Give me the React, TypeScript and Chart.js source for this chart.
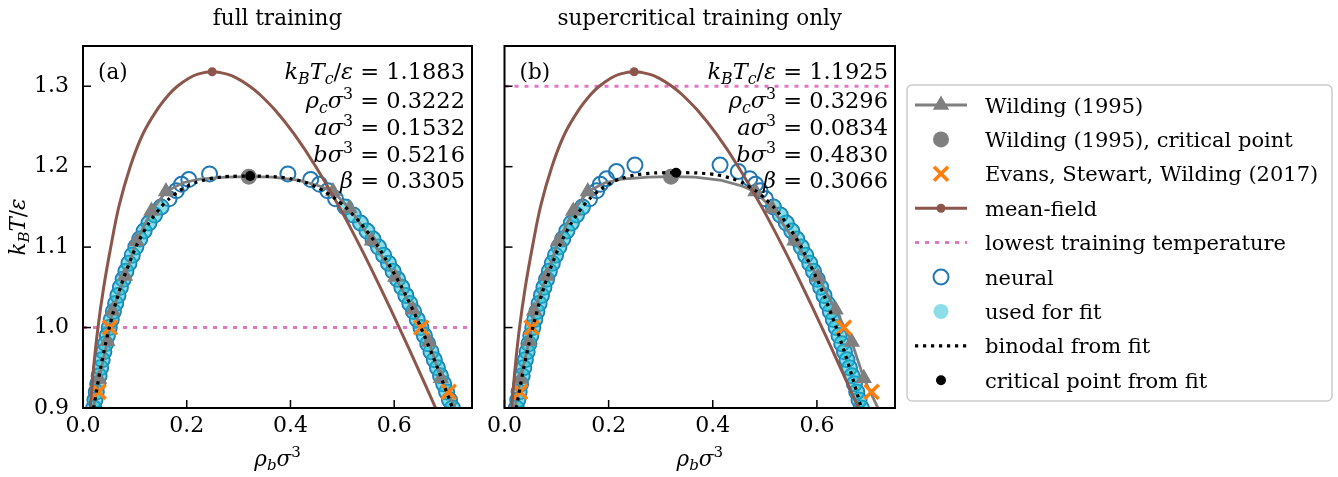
import React, { useEffect, useRef } from "react";
import { Chart, registerables } from "chart.js";
Chart.register(...registerables);

const SERIF = '"DejaVu Serif", serif';

// ---------------- axes ----------------
const X_MIN = 0;
const X_MAX = 0.75;
const X_STEP = 0.2;
const Y_MIN = 0.9;
const Y_MAX = 1.35;
const Y_STEP = 0.1;

// ---------------- Wilding (1995) reference binodal ----------------
const wildingRho = [0.014, 0.031, 0.047, 0.057, 0.081, 0.103, 0.132, 0.160, 0.193, 0.225, 0.276, 0.3197, 0.366, 0.417, 0.456, 0.482, 0.514, 0.557, 0.602, 0.636, 0.667, 0.690, 0.732];
const wildingT = [0.88, 0.936, 0.983, 1.021, 1.064, 1.107, 1.145, 1.169, 1.180, 1.1845, 1.187, 1.1876, 1.187, 1.183, 1.176, 1.169, 1.148, 1.108, 1.063, 1.022, 0.982, 0.937, 0.88];
const wildingHasMarker = [1, 1, 1, 1, 1, 1, 1, 1, 0, 0, 0, 0, 0, 0, 0, 1, 1, 1, 1, 1, 1, 1, 1];
const wildingCritRho = [0.3197];
const wildingCritT = [1.1876];

// ---------------- Evans, Stewart, Wilding (2017) ----------------
const eswRho = [0.030, 0.052, 0.652, 0.705];
const eswT = [0.92, 1.0, 1.0, 0.92];

// ---------------- mean-field binodal ----------------
const mfT = [0.88, 0.90, 0.95, 1.00, 1.05, 1.10, 1.15, 1.20, 1.24, 1.27, 1.29, 1.30, 1.31, 1.315];
const mfGas = [0.0119, 0.0139, 0.0204, 0.0289, 0.0399, 0.0535, 0.0690, 0.0910, 0.1150, 0.1420, 0.1660, 0.1820, 0.2040, 0.2213];
const mfLiq = [0.6935, 0.6799, 0.6452, 0.6097, 0.5731, 0.5349, 0.4940, 0.4489, 0.4076, 0.3707, 0.3403, 0.3214, 0.2965, 0.2777];
const mfCritRho = 0.249;
const mfCritT = 1.318;

// ---------------- panel (a): full training ----------------
const neuralTA = [0.90, 0.91, 0.92, 0.93, 0.94, 0.95, 0.96, 0.97, 0.98, 0.99, 1.00, 1.01, 1.02, 1.03, 1.04, 1.05, 1.06, 1.07, 1.08, 1.09, 1.10, 1.11, 1.12, 1.13, 1.14, 1.15, 1.16, 1.17, 1.178, 1.184, 1.191];
const neuralGasA = [0.0206, 0.0230, 0.0256, 0.0283, 0.0311, 0.0340, 0.0370, 0.0402, 0.0435, 0.0470, 0.0507, 0.0545, 0.0586, 0.0629, 0.0673, 0.0721, 0.0773, 0.0827, 0.0886, 0.0950, 0.1018, 0.1094, 0.1179, 0.1272, 0.1380, 0.1506, 0.1660, 0.1800, 0.1900, 0.2040, 0.2440];
const neuralLiqA = [0.7122, 0.7066, 0.7010, 0.6953, 0.6893, 0.6834, 0.6774, 0.6710, 0.6647, 0.6582, 0.6515, 0.6445, 0.6374, 0.6301, 0.6225, 0.6147, 0.6065, 0.5979, 0.5890, 0.5796, 0.5696, 0.5590, 0.5475, 0.5350, 0.5212, 0.5056, 0.4870, 0.4720, 0.4560, 0.4390, 0.3950];
const fitTA = [0.88, 0.90, 0.95, 1.00, 1.05, 1.10, 1.13, 1.15, 1.16, 1.17, 1.175, 1.18, 1.185, 1.1875, 1.188];
const fitGasA = [0.0159, 0.0206, 0.0340, 0.0507, 0.0721, 0.1018, 0.1272, 0.1506, 0.1660, 0.1860, 0.1991, 0.2165, 0.2438, 0.2729, 0.2865];
const fitLiqA = [0.7229, 0.7122, 0.6834, 0.6515, 0.6147, 0.5696, 0.5350, 0.5056, 0.4870, 0.4640, 0.4493, 0.4305, 0.4016, 0.3717, 0.3579];
const paramsA = [1.1883, 0.3222, 0.1532, 0.5216, 0.3305];
const lowestTA = 1.0;
const usedMaxTA = 1.15;

// ---------------- panel (b): supercritical training only ----------------
const neuralTB = [0.90, 0.91, 0.92, 0.93, 0.94, 0.95, 0.96, 0.97, 0.98, 0.99, 1.00, 1.01, 1.02, 1.03, 1.04, 1.05, 1.06, 1.07, 1.08, 1.09, 1.10, 1.11, 1.12, 1.13, 1.14, 1.15, 1.16, 1.17, 1.178, 1.185, 1.194, 1.202];
const neuralGasB = [0.0227, 0.0254, 0.0281, 0.0310, 0.0340, 0.0370, 0.0402, 0.0435, 0.0469, 0.0505, 0.0543, 0.0581, 0.0622, 0.0665, 0.0710, 0.0757, 0.0808, 0.0861, 0.0918, 0.0980, 0.1045, 0.1118, 0.1197, 0.1284, 0.1383, 0.1497, 0.1634, 0.1770, 0.1840, 0.1960, 0.2150, 0.2505];
const neuralLiqB = [0.6853, 0.6810, 0.6765, 0.6720, 0.6674, 0.6626, 0.6578, 0.6529, 0.6477, 0.6425, 0.6371, 0.6315, 0.6258, 0.6199, 0.6136, 0.6073, 0.6006, 0.5935, 0.5862, 0.5784, 0.5701, 0.5612, 0.5517, 0.5412, 0.5297, 0.5165, 0.5012, 0.4910, 0.4820, 0.4710, 0.4490, 0.4140];
const fitTB = [0.88, 0.90, 0.95, 1.00, 1.05, 1.10, 1.13, 1.15, 1.16, 1.17, 1.18, 1.185, 1.19, 1.1922];
const fitGasB = [0.0176, 0.0227, 0.0370, 0.0543, 0.0757, 0.1045, 0.1284, 0.1497, 0.1634, 0.1806, 0.2046, 0.2224, 0.2529, 0.2894];
const fitLiqB = [0.6938, 0.6853, 0.6626, 0.6371, 0.6073, 0.5701, 0.5412, 0.5165, 0.5012, 0.4824, 0.4566, 0.4380, 0.4067, 0.3698];
const paramsB = [1.1925, 0.3296, 0.0834, 0.4830, 0.3066];
const lowestTB = 1.3;
const usedMaxTB = 1.15;

const legendLabels = [
  "Wilding (1995)",
  "Wilding (1995), critical point",
  "Evans, Stewart, Wilding (2017)",
  "mean-field",
  "lowest training temperature",
  "neural",
  "used for fit",
  "binodal from fit",
  "critical point from fit",
];

// ---------------- colours ----------------
const C_BLUE = "#1f77b4";
const C_ORANGE = "#ff7f0e";
const C_BROWN = "#8c564b";
const C_PINK = "#e377c2";
const C_GRAY = "#7f7f7f";
const C_CYAN = "rgba(23,190,207,0.5)";

type Seg = { t: string; i?: boolean; sub?: boolean; sup?: boolean };

function drawRich(ctx: CanvasRenderingContext2D, segs: Seg[], x: number, y: number, size: number, align: "left" | "right" | "center") {
  const fontFor = (s: Seg) => `${s.i ? "italic " : ""}${s.sub || s.sup ? size * 0.7 : size}px ${SERIF}`;
  const widths = segs.map((s) => {
    ctx.font = fontFor(s);
    return ctx.measureText(s.t).width;
  });
  const total = widths.reduce((a, b) => a + b, 0);
  let cx = align === "right" ? x - total : align === "center" ? x - total / 2 : x;
  ctx.textAlign = "left";
  ctx.textBaseline = "alphabetic";
  segs.forEach((s, k) => {
    ctx.font = fontFor(s);
    const dy = s.sub ? size * 0.2 : s.sup ? -size * 0.4 : 0;
    ctx.fillText(s.t, cx, y + dy);
    cx += widths[k];
  });
}

interface Panel {
  title: string;
  tag: string;
  showY: boolean;
  yAxisWidth: number;
  padRight: number;
  neuralT: number[];
  neuralGas: number[];
  neuralLiq: number[];
  usedMaxT: number;
  fitT: number[];
  fitGas: number[];
  fitLiq: number[];
  params: number[];
  lowestT: number;
}

const panelA: Panel = {
  title: "full training", tag: "(a)", showY: true, yAxisWidth: 83, padRight: 8,
  neuralT: neuralTA, neuralGas: neuralGasA, neuralLiq: neuralLiqA, usedMaxT: usedMaxTA,
  fitT: fitTA, fitGas: fitGasA, fitLiq: fitLiqA, params: paramsA, lowestT: lowestTA,
};
const panelB: Panel = {
  title: "supercritical training only", tag: "(b)", showY: false, yAxisWidth: 44.5, padRight: 5,
  neuralT: neuralTB, neuralGas: neuralGasB, neuralLiq: neuralLiqB, usedMaxT: usedMaxTB,
  fitT: fitTB, fitGas: fitGasB, fitLiq: fitLiqB, params: paramsB, lowestT: lowestTB,
};

function paramRows(p: number[]): Seg[][] {
  const v = (k: number) => " = " + p[k].toFixed(4);
  return [
    [{ t: "k", i: true }, { t: "B", i: true, sub: true }, { t: "T", i: true }, { t: "c", i: true, sub: true }, { t: "/" }, { t: "ε", i: true }, { t: v(0) }],
    [{ t: "ρ", i: true }, { t: "c", i: true, sub: true }, { t: "σ", i: true }, { t: "3", sup: true }, { t: v(1) }],
    [{ t: "a", i: true }, { t: "σ", i: true }, { t: "3", sup: true }, { t: v(2) }],
    [{ t: "b", i: true }, { t: "σ", i: true }, { t: "3", sup: true }, { t: v(3) }],
    [{ t: "β", i: true }, { t: v(4) }],
  ];
}

function makeDatasets(p: Panel) {
  const neural = p.neuralT.flatMap((t, i) => [{ x: p.neuralGas[i], y: t }, { x: p.neuralLiq[i], y: t }]);
  const used = p.neuralT.flatMap((t, i) => (t <= p.usedMaxT + 1e-9 ? [{ x: p.neuralGas[i], y: t }, { x: p.neuralLiq[i], y: t }] : []));
  const crit = { x: p.params[1], y: p.params[0] };
  const fitLine = [
    ...p.fitT.map((t, i) => ({ x: p.fitGas[i], y: t })),
    crit,
    ...p.fitT.map((t, i) => ({ x: p.fitLiq[i], y: t })).reverse(),
  ];
  const mf = [
    ...mfT.map((t, i) => ({ x: mfGas[i], y: t })),
    { x: mfCritRho, y: mfCritT },
    ...mfT.map((t, i) => ({ x: mfLiq[i], y: t })).reverse(),
  ];
  const wild = wildingRho.map((r, i) => ({ x: r, y: wildingT[i] }));
  return [
    { label: "lowest", data: [{ x: X_MIN, y: p.lowestT }, { x: X_MAX, y: p.lowestT }], showLine: true, borderColor: C_PINK, borderWidth: 3, borderDash: [4, 6], borderCapStyle: "butt", pointRadius: 0, order: 10, clip: 0 },
    { label: "neural", data: neural, showLine: false, pointStyle: "circle", pointRadius: 7.5, pointBorderWidth: 2, pointBorderColor: C_BLUE, pointBackgroundColor: "rgba(0,0,0,0)", order: 9, clip: 0 },
    { label: "used", data: used, showLine: false, pointStyle: "circle", pointRadius: 7.5, pointBorderWidth: 0, pointBorderColor: "rgba(0,0,0,0)", pointBackgroundColor: C_CYAN, order: 8, clip: 0 },
    { label: "wilding", data: wild, showLine: true, borderColor: C_GRAY, borderWidth: 2.8, tension: 0, pointStyle: "triangle", pointRadius: wildingHasMarker.map((m) => (m ? 9.5 : 0)), pointBorderWidth: 0, pointBackgroundColor: C_GRAY, pointBorderColor: C_GRAY, order: 7, clip: 0 },
    { label: "wildingCrit", data: wildingCritRho.map((r, i) => ({ x: r, y: wildingCritT[i] })), showLine: false, pointStyle: "circle", pointRadius: 8, pointBorderWidth: 0, pointBackgroundColor: C_GRAY, order: 6, clip: 0 },
    { label: "esw", data: eswRho.map((r, i) => ({ x: r, y: eswT[i] })), showLine: false, pointStyle: "crossRot", pointRadius: 10, pointBorderWidth: 3.5, pointBorderColor: C_ORANGE, order: 5, clip: 0 },
    { label: "mf", data: mf, showLine: true, borderColor: C_BROWN, borderWidth: 3, tension: 0.3, pointRadius: 0, order: 4, clip: 0 },
    { label: "mfCrit", data: [{ x: mfCritRho, y: mfCritT }], showLine: false, pointStyle: "circle", pointRadius: 4.5, pointBorderWidth: 0, pointBackgroundColor: C_BROWN, order: 3, clip: 0 },
    { label: "fit", data: fitLine, showLine: true, borderColor: "#000", borderWidth: 3.2, borderDash: [3.2, 4.8], borderCapStyle: "butt", tension: 0.25, pointRadius: 0, order: 2, clip: 0 },
    { label: "fitCrit", data: [crit], showLine: false, pointStyle: "circle", pointRadius: 5, pointBorderWidth: 0, pointBackgroundColor: "#000", order: 1, clip: 0 },
  ];
}

function decorPlugin(p: Panel) {
  return {
    id: "decor" + p.tag,
    afterDatasetsDraw(chart: any) {
      const { ctx, chartArea: a, scales } = chart;
      ctx.save();
      ctx.strokeStyle = "#000";
      ctx.lineWidth = 1.5;
      for (const t of scales.x.ticks) {
        const px = scales.x.getPixelForValue(t.value);
        ctx.beginPath();
        ctx.moveTo(px, a.bottom);
        ctx.lineTo(px, a.bottom - 8);
        ctx.stroke();
      }
      for (const t of scales.y.ticks) {
        const py = scales.y.getPixelForValue(t.value);
        ctx.beginPath();
        ctx.moveTo(a.left, py);
        ctx.lineTo(a.left + 8, py);
        ctx.stroke();
      }
      ctx.lineWidth = 2;
      ctx.strokeRect(a.left, a.top, a.right - a.left, a.bottom - a.top);

      ctx.fillStyle = "#000";
      const cx = (a.left + a.right) / 2;
      // title
      drawRich(ctx, [{ t: p.title }], cx, 25, 21.5, "center");
      // x label
      drawRich(ctx, [{ t: "ρ", i: true }, { t: "b", i: true, sub: true }, { t: "σ", i: true }, { t: "3", sup: true }], cx, 466, 21.5, "center");
      // y label
      if (p.showY) {
        ctx.save();
        ctx.translate(25, (a.top + a.bottom) / 2);
        ctx.rotate(-Math.PI / 2);
        drawRich(ctx, [{ t: "k", i: true }, { t: "B", i: true, sub: true }, { t: "T", i: true }, { t: "/" }, { t: "ε", i: true }], 0, 0, 21.5, "center");
        ctx.restore();
      }
      // panel tag
      drawRich(ctx, [{ t: p.tag }], a.left + 15, 79, 21.5, "left");
      // parameters
      const rows = paramRows(p.params);
      const baselines = [79, 108, 135, 162, 188];
      rows.forEach((r, k) => drawRich(ctx, r, a.right - 7, baselines[k], 22.5, "right"));
      ctx.restore();
    },
  };
}

function makeConfig(p: Panel): any {
  const tickFont = { family: SERIF, size: 22 };
  return {
    type: "scatter",
    data: { datasets: makeDatasets(p) },
    options: {
      responsive: false,
      animation: false,
      devicePixelRatio: 1,
      events: [],
      layout: { autoPadding: false, padding: { left: 0, top: 46, right: p.padRight, bottom: 0 } },
      plugins: { legend: { display: false }, tooltip: { enabled: false }, title: { display: false } },
      scales: {
        x: {
          type: "linear",
          position: "bottom",
          min: X_MIN,
          max: X_MAX,
          grid: { display: false, drawTicks: false },
          border: { display: false },
          ticks: { stepSize: X_STEP, includeBounds: false, autoSkip: false, maxRotation: 0, color: "#000", font: tickFont, padding: 5, callback: (v: any) => Number(v).toFixed(1) },
          afterFit: (s: any) => { s.height = 69; },
        },
        y: {
          type: "linear",
          position: "left",
          min: Y_MIN,
          max: Y_MAX,
          grid: { display: false, drawTicks: false },
          border: { display: false },
          ticks: { display: p.showY, stepSize: Y_STEP, includeBounds: false, autoSkip: false, color: "#000", font: tickFont, padding: 14, callback: (v: any) => Number(v).toFixed(1) },
          afterFit: (s: any) => { s.width = p.yAxisWidth; },
        },
      },
    },
    plugins: [decorPlugin(p)],
  };
}

function Legend() {
  const x0 = 907, y0 = 85, w = 425, h = 316;
  const hx = 941, lx1 = 915, lx2 = 967, tx = 985;
  const rowY = (k: number) => 105 + 34.4 * k;
  const tri = (cy: number, r: number) =>
    `M ${hx} ${cy - r} L ${hx + r * 0.866} ${cy + r / 2} L ${hx - r * 0.866} ${cy + r / 2} Z`;
  return (
    <svg width={1338} height={477} style={{ position: "absolute", left: 0, top: 0, pointerEvents: "none" }}>
      <rect x={x0} y={y0} width={w} height={h} rx={5} ry={5} fill="rgba(255,255,255,0.8)" stroke="#cccccc" strokeWidth={1.5} />
      {/* Wilding line */}
      <line x1={lx1} x2={lx2} y1={rowY(0)} y2={rowY(0)} stroke={C_GRAY} strokeWidth={2.8} />
      <path d={tri(rowY(0), 9.5)} fill={C_GRAY} />
      {/* Wilding crit */}
      <circle cx={hx} cy={rowY(1)} r={8} fill={C_GRAY} />
      {/* ESW */}
      <line x1={hx - 7} y1={rowY(2) - 7} x2={hx + 7} y2={rowY(2) + 7} stroke={C_ORANGE} strokeWidth={3.5} />
      <line x1={hx - 7} y1={rowY(2) + 7} x2={hx + 7} y2={rowY(2) - 7} stroke={C_ORANGE} strokeWidth={3.5} />
      {/* mean-field */}
      <line x1={lx1} x2={lx2} y1={rowY(3)} y2={rowY(3)} stroke={C_BROWN} strokeWidth={3} />
      <circle cx={hx} cy={rowY(3)} r={4.5} fill={C_BROWN} />
      {/* lowest training T */}
      <line x1={lx1} x2={lx2} y1={rowY(4)} y2={rowY(4)} stroke={C_PINK} strokeWidth={3} strokeDasharray="4 6" />
      {/* neural */}
      <circle cx={hx} cy={rowY(5)} r={7.5} fill="none" stroke={C_BLUE} strokeWidth={2} />
      {/* used for fit */}
      <circle cx={hx} cy={rowY(6)} r={7.5} fill={C_CYAN} />
      {/* binodal from fit */}
      <line x1={lx1} x2={lx2} y1={rowY(7)} y2={rowY(7)} stroke="#000" strokeWidth={3.2} strokeDasharray="3.2 4.8" />
      {/* critical point from fit */}
      <circle cx={hx} cy={rowY(8)} r={5} fill="#000" />
      {legendLabels.map((s, k) => (
        <text key={k} x={tx} y={rowY(k) + 7.5} fontFamily={SERIF} fontSize={21} fill="#000">
          {s}
        </text>
      ))}
    </svg>
  );
}

export default function App() {
  const refA = useRef<HTMLCanvasElement>(null);
  const refB = useRef<HTMLCanvasElement>(null);
  useEffect(() => {
    const cA = new Chart(refA.current as HTMLCanvasElement, makeConfig(panelA));
    const cB = new Chart(refB.current as HTMLCanvasElement, makeConfig(panelB));
    return () => {
      cA.destroy();
      cB.destroy();
    };
  }, []);
  return (
    <div style={{ position: "fixed", left: 0, top: 0, width: 1338, height: 477, background: "#fff", overflow: "hidden" }}>
      <canvas ref={refB} width={440} height={477} style={{ position: "absolute", left: 460, top: 0, width: 440, height: 477 }} />
      <canvas ref={refA} width={480} height={477} style={{ position: "absolute", left: 0, top: 0, width: 480, height: 477 }} />
      <Legend />
    </div>
  );
}
